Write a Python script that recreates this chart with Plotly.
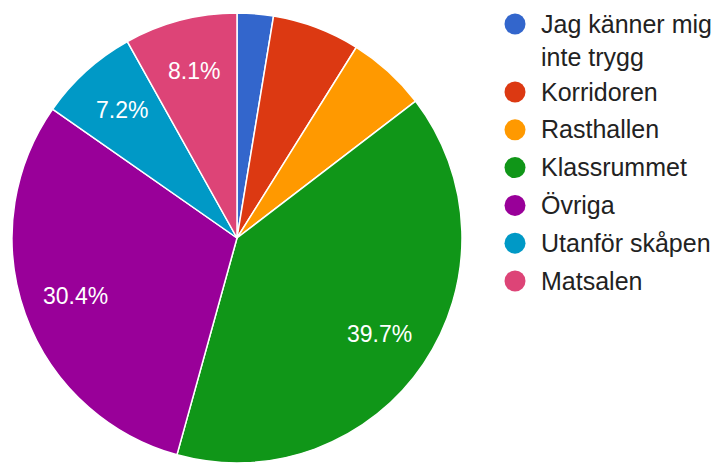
import math
import plotly.graph_objects as go

# ---- data ----
categories = ["Jag känner mig inte trygg", "Korridoren", "Rasthallen", "Klassrummet",
              "Övriga", "Utanför skåpen", "Matsalen"]
legend_labels = ["Jag känner mig<br>inte trygg", "Korridoren", "Rasthallen", "Klassrummet",
                 "Övriga", "Utanför skåpen", "Matsalen"]
values = [2.6, 6.3, 5.7, 39.7, 30.4, 7.2, 8.1]
colors = ["#3366cc", "#dc3912", "#ff9900", "#109618", "#990099", "#0099c6", "#dd4477"]

W, H = 711, 465
CX, CY, R = 237, 238, 225
FONT = "Liberation Sans, Arial, sans-serif"

fig = go.Figure(go.Pie(
    labels=categories,
    values=values,
    marker=dict(colors=colors, line=dict(color="white", width=1.5)),
    sort=False,
    direction="clockwise",
    rotation=0,
    textinfo="none",
    hoverinfo="label+percent",
    showlegend=False,
    domain=dict(x=[(CX - R) / W, (CX + R) / W], y=[(H - CY - R) / H, (H - CY + R) / H]),
))

annotations = []
shapes = []

# percentage labels inside big slices (positions computed from values)
total = sum(values)
cum = 0.0
for v in values:
    pct = v / total * 100
    mid = (cum + v / 2) / total * 2 * math.pi
    cum += v
    if pct < 7:
        continue
    px = CX + 0.765 * R * math.sin(mid)
    py = CY - 0.765 * R * math.cos(mid)
    annotations.append(dict(
        x=px / W, y=1 - py / H, xref="paper", yref="paper",
        text=f"{pct:.1f}%", showarrow=False,
        font=dict(family=FONT, size=23, color="white"),
        xanchor="center", yanchor="middle",
    ))

# custom legend
LX_DOT, LX_TEXT = 515, 539
LINE = 33      # line spacing inside a wrapped entry
GAP = 37.8     # distance between entries
y = 24
for i, (lab, col) in enumerate(zip(legend_labels, colors)):
    nlines = lab.count("<br>") + 1
    shapes.append(dict(
        type="circle", xref="paper", yref="paper",
        xsizemode="pixel", ysizemode="pixel",
        xanchor=LX_DOT / W, yanchor=1 - y / H,
        x0=-10.5, x1=10.5, y0=-10.5, y1=10.5,
        fillcolor=col, line=dict(width=0),
    ))
    annotations.append(dict(
        x=LX_TEXT / W, y=1 - (y - LINE / 2) / H, xref="paper", yref="paper",
        text=lab, showarrow=False, align="left",
        font=dict(family=FONT, size=25, color="#222222"),
        xanchor="left", yanchor="top",
    ))
    y += LINE * (nlines - 1) + (35 if nlines > 1 else GAP)

fig.update_layout(
    width=W, height=H,
    margin=dict(l=0, r=0, t=0, b=0),
    paper_bgcolor="white",
    plot_bgcolor="white",
    annotations=annotations,
    shapes=shapes,
)

fig.write_html("out.html")
